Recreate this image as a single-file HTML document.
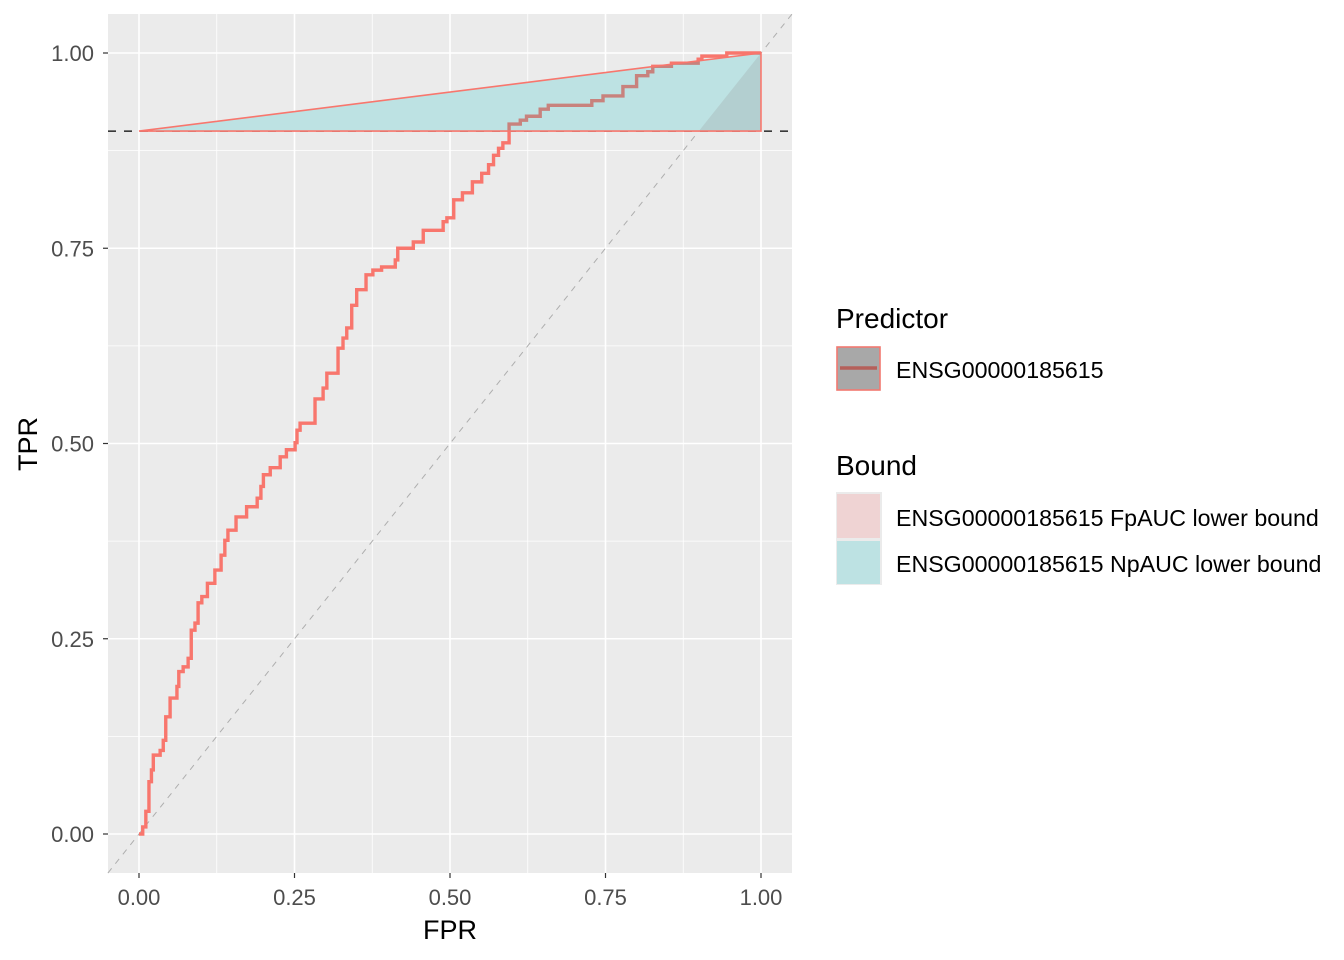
<!DOCTYPE html>
<html><head><meta charset="utf-8"><style>
html,body{margin:0;padding:0;background:#fff;}
svg{display:block;font-family:"Liberation Sans",Arial,sans-serif;}
</style></head><body>
<svg id="chart" width="1344" height="960" viewBox="0 0 1344 960">
<rect x="108" y="14" width="684" height="859" fill="#EBEBEB"/>
<g id="grid"></g>
<g id="marks"></g>
<g id="axes"></g>
<text x="450" y="939" font-size="27" text-anchor="middle" fill="#000">FPR</text>
<text transform="translate(37,444) rotate(-90)" font-size="27" text-anchor="middle" fill="#000">TPR</text>
<g>
<text x="836" y="328" font-size="28" fill="#000">Predictor</text>
<rect x="836" y="346" width="45" height="45" fill="#EBEBEB"/>
<rect x="837" y="347" width="43" height="43" fill="#A8A8A8" stroke="#F8766D" stroke-width="1.5"/>
<line x1="840" y1="368" x2="877" y2="368" stroke="#B5605A" stroke-width="3.5"/>
<text x="896" y="378" font-size="23.2" fill="#000">ENSG00000185615</text>
<text x="836" y="475" font-size="28" fill="#000">Bound</text>
<rect x="836" y="492" width="46" height="93" fill="#EBEBEB"/>
<rect x="837" y="494" width="43" height="44" fill="#EFD3D3"/>
<rect x="837" y="541" width="43" height="43" fill="#BDE2E3"/>
<text x="896" y="526" font-size="23.2" fill="#000">ENSG00000185615 FpAUC lower bound</text>
<text x="896" y="572" font-size="23.2" fill="#000">ENSG00000185615 NpAUC lower bound</text>
</g>
</svg>
<script>
const fprValues=[0,0.006,0.011,0.016,0.020,0.023,0.034,0.039,0.043,0.050,0.061,0.064,0.071,0.079,0.084,0.090,0.095,0.101,0.110,0.122,0.132,0.138,0.143,0.156,0.173,0.190,0.196,0.200,0.211,0.227,0.237,0.251,0.254,0.259,0.283,0.296,0.302,0.320,0.328,0.334,0.342,0.350,0.365,0.376,0.390,0.412,0.416,0.441,0.457,0.489,0.495,0.506,0.520,0.536,0.551,0.562,0.570,0.578,0.585,0.595,0.613,0.623,0.645,0.658,0.728,0.746,0.778,0.800,0.818,0.826,0.856,0.899,0.905,0.945,1.0];
const tprValues=[0,0.009,0.029,0.067,0.082,0.101,0.107,0.120,0.150,0.174,0.189,0.208,0.214,0.225,0.261,0.270,0.296,0.304,0.321,0.338,0.357,0.376,0.389,0.406,0.419,0.430,0.445,0.460,0.469,0.483,0.492,0.501,0.517,0.526,0.557,0.571,0.590,0.622,0.635,0.648,0.677,0.697,0.716,0.722,0.726,0.735,0.750,0.758,0.773,0.784,0.789,0.812,0.821,0.835,0.846,0.857,0.869,0.878,0.885,0.909,0.914,0.919,0.928,0.933,0.939,0.945,0.957,0.971,0.976,0.983,0.987,0.992,0.996,1.0,1.0];
const tickValues=[0,0.25,0.5,0.75,1];
const tickLabels=["0.00","0.25","0.50","0.75","1.00"];
const minorValues=[0.125,0.375,0.625,0.875];
const boundTpr=0.9;

const NS="http://www.w3.org/2000/svg";
const X=v=>139+v*622, Y=v=>834-v*781;
function mk(parent,tag,attrs){const e=document.createElementNS(NS,tag);for(const k in attrs)e.setAttribute(k,attrs[k]);parent.appendChild(e);return e;}
const grid=document.getElementById('grid'),marks=document.getElementById('marks'),axes=document.getElementById('axes');
minorValues.forEach(v=>{
 let l=mk(grid,'line',{x1:X(v),x2:X(v),y1:14,y2:873,stroke:'#fff','stroke-width':0.8});
 
 
 l=mk(grid,'line',{x1:108,x2:792,y1:Y(v),y2:Y(v),stroke:'#fff','stroke-width':0.8});
 
 
});
tickValues.forEach((v,i)=>{
 let l=mk(grid,'line',{x1:X(v),x2:X(v),y1:14,y2:873,stroke:'#fff','stroke-width':1.6});
 
 
 l=mk(grid,'line',{x1:108,x2:792,y1:Y(v),y2:Y(v),stroke:'#fff','stroke-width':1.6});
 
 
 let t=mk(axes,'line',{x1:X(v),x2:X(v),y1:873,y2:878,stroke:'#333','stroke-width':1.2});
 
 
 t=mk(axes,'line',{x1:103,x2:108,y1:Y(v),y2:Y(v),stroke:'#333','stroke-width':1.2});
 
 
 let tx=mk(axes,'text',{x:X(v),y:905,'font-size':22,'text-anchor':'middle',fill:'#4D4D4D'});
 tx.textContent=tickLabels[i];
 
 
 tx=mk(axes,'text',{x:94,y:Y(v)+8,'font-size':22,'text-anchor':'end',fill:'#4D4D4D'});
 tx.textContent=tickLabels[i];
 
 
});
let d=mk(marks,'line',{x1:X(-0.05),y1:Y(-0.05),x2:X(1.05),y2:Y(1.05),stroke:'#AEAEAE','stroke-width':1,'stroke-dasharray':'6,6'});


let b=mk(marks,'line',{x1:108,x2:792,y1:Y(boundTpr),y2:Y(boundTpr),stroke:'#000','stroke-width':1.3,'stroke-dasharray':'8,8'});


let p='M'+X(fprValues[0])+','+Y(tprValues[0]);
for(let i=1;i<fprValues.length;i++){p+=' H'+X(fprValues[i])+' V'+Y(tprValues[i]);}
let roc=mk(marks,'path',{d:p,fill:'none',stroke:'#F8766D','stroke-width':3.4});


const polyPts=`${X(0)},${Y(boundTpr)} ${X(1)},${Y(1)} ${X(1)},${Y(boundTpr)}`;
let np=mk(marks,'polygon',{points:polyPts,fill:'#BDE2E3'});


const defs=mk(document.getElementById('chart'),'defs',{});
const cp=mk(defs,'clipPath',{id:'polyclip'});
mk(cp,'polygon',{points:polyPts});
let roc2=mk(marks,'path',{d:p,fill:'none',stroke:'#C8827D','stroke-width':3.4,'clip-path':'url(#polyclip)'});


let fp=mk(marks,'polygon',{points:`${X(boundTpr)},${Y(boundTpr)} ${X(1)},${Y(1)} ${X(1)},${Y(boundTpr)}`,fill:'rgba(150,150,150,0.25)'});


let ol=mk(marks,'polygon',{points:polyPts,fill:'none',stroke:'#F8766D','stroke-width':1.6});


</script>
</body></html>
